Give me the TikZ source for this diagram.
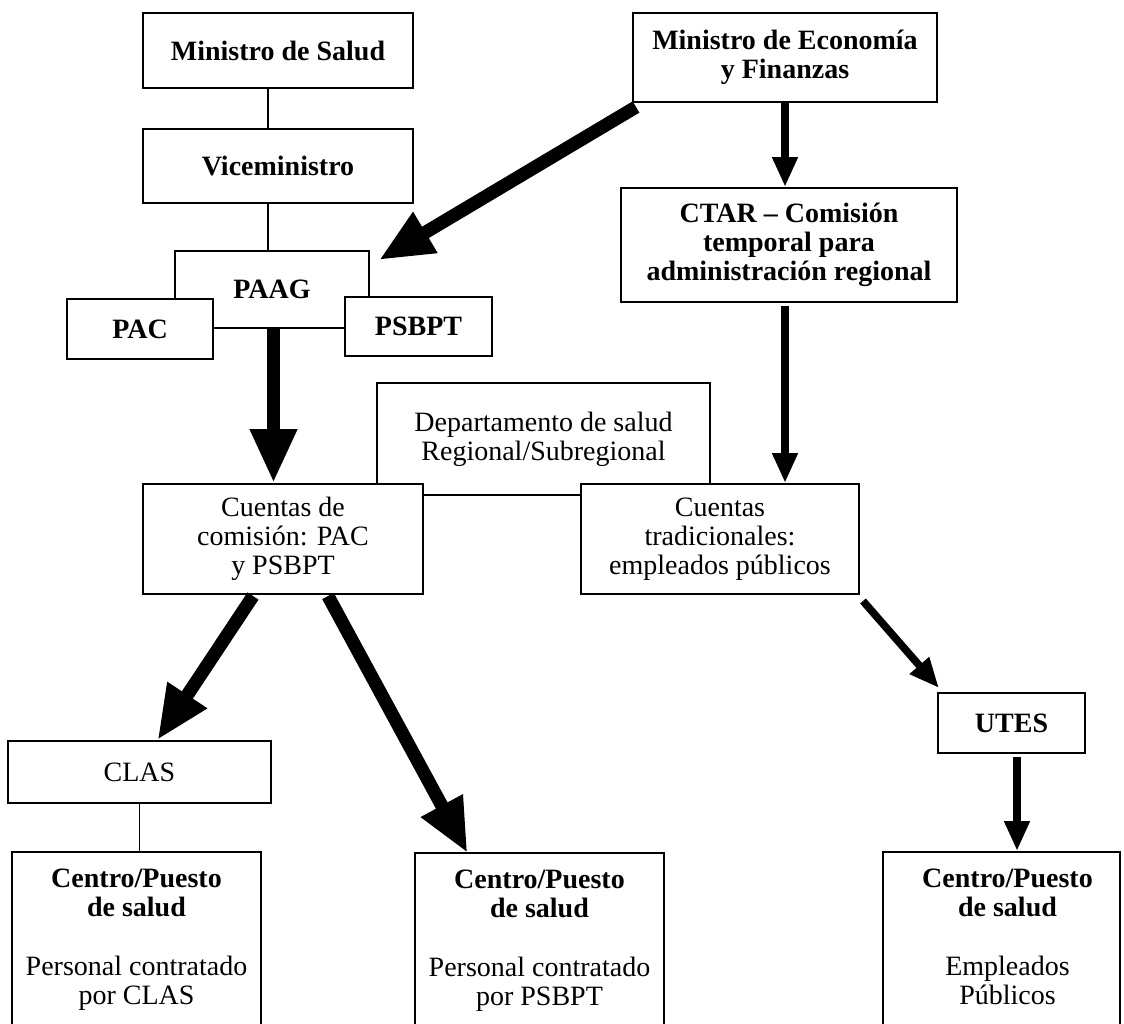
\documentclass[tikz,border=0pt]{standalone}
\usepackage{fontspec}
\setmainfont{Liberation Serif}
\usetikzlibrary{arrows.meta}
\begin{document}
\begin{tikzpicture}[x=0.5pt,y=-0.5pt,
every node/.style={font=\fontsize{14}{14.5}\selectfont},
caja/.style={draw,line width=1pt,fill=white,inner sep=0pt,align=center},
negrita/.style={caja,font=\fontsize{14}{14.5}\selectfont\bfseries},
centro/.style={caja,anchor=north,minimum height=100pt},
rotulo/.style={anchor=north,align=center,inner sep=0pt},
linea/.style={line width=0.8pt},
media/.style={line width=3.8pt,-{Triangle[length=15pt,width=12pt]}},
gruesa/.style={line width=6.6pt,-{Triangle[length=27pt,width=22pt]}}]
\useasboundingbox (0,0) rectangle (1124,1023);
\clip (0,0) rectangle (1124,1023);
% cajas superiores
\node[negrita,minimum width=135pt,minimum height=37.5pt] (ms) at (278,50.5) {Ministro de Salud};
\node[negrita,minimum width=135pt,minimum height=37pt] (vm) at (278,166) {Viceministro};
\node[negrita,minimum width=152pt,minimum height=44.5pt] (mef) at (785,57.5) {Ministro de Economía\\y Finanzas};
\node[negrita,minimum width=168pt,minimum height=57pt] (ctar) at (789,245) {CTAR – Comisión\\temporal para\\administración regional};
\node[negrita,minimum width=97pt,minimum height=38.5pt] (paag) at (272,289.5) {PAAG};
\node[negrita,minimum width=73pt,minimum height=30pt] (pac) at (140,329) {PAC};
\node[negrita,minimum width=73.5pt,minimum height=29.5pt] (psbpt) at (418.5,326.5) {PSBPT};
% cuentas
\node[caja,minimum width=166.5pt,minimum height=56pt] (dep) at (543.5,439) {Departamento de salud\\Regional/Subregional};
\node[caja,minimum width=140pt,minimum height=55pt] (cc) at (283,539) {Cuentas de\\comisión: PAC\\y PSBPT};
\node[caja,minimum width=139pt,minimum height=55pt] (ct) at (720,539) {Cuentas\\tradicionales:\\empleados públicos};
\node[caja,minimum width=131.5pt,minimum height=31pt] (clas) at (139.5,772) {CLAS};
\node[negrita,minimum width=73.5pt,minimum height=30pt] (utes) at (1011.5,723) {UTES};
% centros y puestos
\node[centro,minimum width=124.5pt] (pb1) at (136.5,851) {};
\node[centro,minimum width=124.5pt] (pb2) at (539.5,852) {};
\node[centro,minimum width=118.5pt] (pb3) at (1001.5,851) {};
\node[rotulo] (pb1t) at ([yshift=-9pt]pb1.north) {\textbf{Centro/Puesto}\\\textbf{de salud}\\[15pt]Personal contratado\\por CLAS};
\node[rotulo] (pb2t) at ([yshift=-9pt]pb2.north) {\textbf{Centro/Puesto}\\\textbf{de salud}\\[15pt]Personal contratado\\por PSBPT};
\node[rotulo] (pb3t) at ([shift={(3pt,-9pt)}]pb3.north) {\textbf{Centro/Puesto}\\\textbf{de salud}\\[15pt]Empleados\\Públicos};
% conectores
\draw[linea] ([xshift=-5pt]ms.south) -- ([xshift=-5pt]vm.north);
\draw[linea] ([xshift=-5pt]vm.south) -- ([xshift=-5pt]vm.south |- paag.north);
\draw[linea] (clas.south) -- (clas.south |- pb1.north);
\draw[gruesa] ([shift={(4,4)}]mef.south west) -- ([shift={(9,10)}]paag.north east);
\draw[gruesa] ([xshift=0.75pt]paag.south) -- ([xshift=0.75pt]paag.south |- cc.north);
\draw[media] (mef.south) -- (mef.south |- ctar.north);
\draw[media] ([yshift=-1.5pt]ctar.south -| mef.south) -- (mef.south |- ct.north);
\draw[gruesa] ([shift={(-30,1)}]cc.south) -- ([shift={(18,0)}]clas.north);
\draw[gruesa] ([shift={(45,1)}]cc.south) -- ([shift={(-72,1)}]pb2.north);
\draw[media] ([shift={(3,6)}]ct.south east) -- ([shift={(2,-4)}]utes.north west);
\draw[media] ([shift={(5.5,3)}]utes.south) -- ([xshift=2.75pt]utes.south |- pb3.north);
\end{tikzpicture}
\end{document}
